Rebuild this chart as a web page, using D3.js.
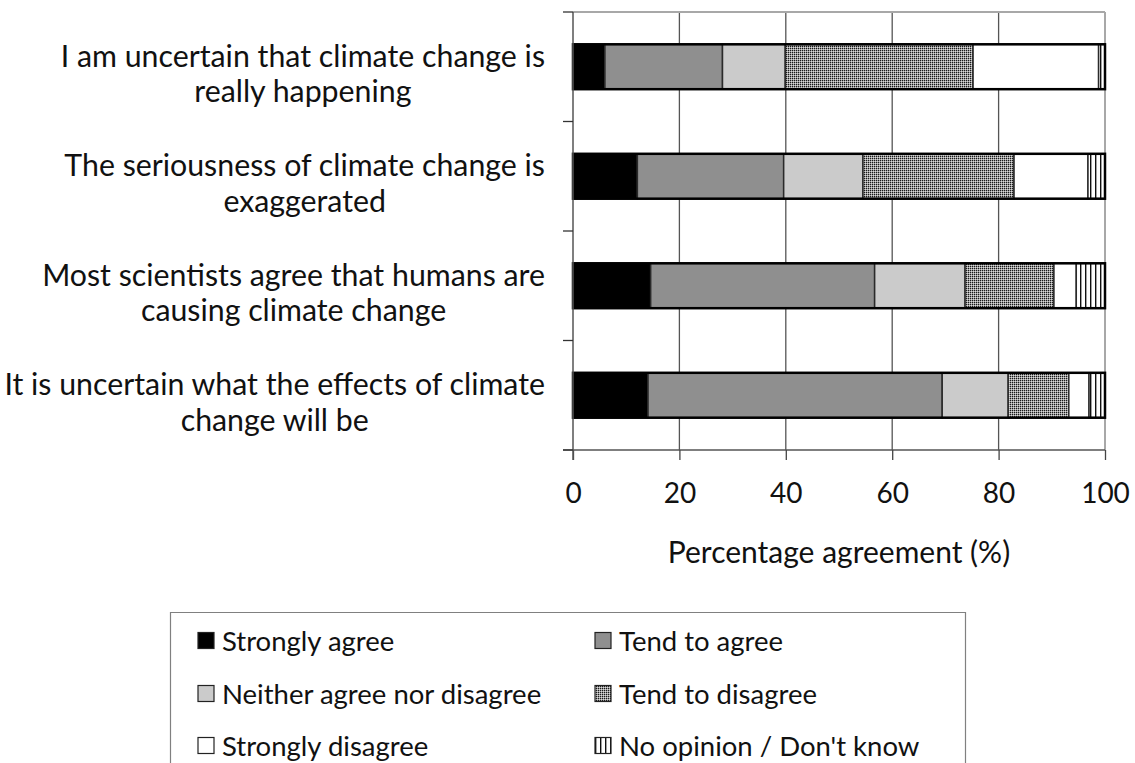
<!DOCTYPE html>
<html>
<head>
<meta charset="utf-8">
<script src="https://cdn.jsdelivr.net/npm/d3@7"></script>
<style>
  html, body { margin: 0; padding: 0; background: #fff; }
  svg { display: block; }
  text { font-family: Lato, "Open Sans", sans-serif; fill: #111; }
</style>
</head>
<body>
<svg id="chart" width="1135" height="763"></svg>
<script>
// ---- data ----
const categories = [
  "I am uncertain that climate change is|really happening",
  "The seriousness of climate change is|exaggerated",
  "Most scientists agree that humans are|causing climate change",
  "It is uncertain what the effects of climate|change will be"
];
const seriesNames = ["Strongly agree", "Tend to agree", "Neither agree nor disagree",
  "Tend to disagree", "Strongly disagree", "No opinion / Don't know"];
const stronglyAgree    = [6.0, 12.1, 14.6, 14.1];
const tendToAgree      = [22.1, 27.5, 42.1, 55.3];
const neither          = [11.8, 14.9, 17.0, 12.4];
const tendToDisagree   = [35.3, 28.4, 16.7, 11.4];
const stronglyDisagree = [23.6, 13.9, 4.2, 3.8];
const noOpinion        = [1.2, 3.2, 5.4, 3.0];
const xTicks = [0, 20, 40, 60, 80, 100];
const xTitle = "Percentage agreement (%)";

const seriesValues = [stronglyAgree, tendToAgree, neither, tendToDisagree, stronglyDisagree, noOpinion];
const table = categories.map((c, i) => {
  const row = { cat: c };
  seriesNames.forEach((s, j) => row[s] = seriesValues[j][i]);
  return row;
});

const svg = d3.select("#chart");
const defs = svg.append("defs");

// patterns
const pDis = defs.append("pattern").attr("id", "pDis").attr("patternUnits", "userSpaceOnUse")
  .attr("width", 2).attr("height", 2);
pDis.append("rect").attr("width", 2).attr("height", 2).attr("fill", "#9a9a9a");
pDis.append("rect").attr("x", 0).attr("y", 0).attr("width", 1).attr("height", 1).attr("fill", "#1a1a1a");
pDis.append("rect").attr("x", 1).attr("y", 1).attr("width", 1).attr("height", 1).attr("fill", "#d8d8d8");

const pNo = defs.append("pattern").attr("id", "pNo").attr("patternUnits", "userSpaceOnUse")
  .attr("width", 5).attr("height", 10);
pNo.append("rect").attr("width", 5).attr("height", 10).attr("fill", "#fff");
pNo.append("rect").attr("x", 0).attr("width", 1.4).attr("height", 10).attr("fill", "#111");

const fills = ["#000000", "#8f8f8f", "#cbcbcb", "url(#pDis)", "#ffffff", "url(#pNo)"];
const color = d3.scaleOrdinal().domain(seriesNames).range(fills);

// scales
const x = d3.scaleLinear().domain([0, 100]).range([573, 1105]);
const y = d3.scaleBand().domain(categories).range([12, 450]).paddingInner(0.59).paddingOuter(0.295);

// gridlines
svg.append("g").selectAll("line").data(xTicks.filter(t => t > 0 && t < 100)).join("line")
  .attr("x1", d => x(d)).attr("x2", d => x(d)).attr("y1", 12).attr("y2", 450)
  .attr("stroke", "#555").attr("stroke-width", 1.3);
// plot border top and right (light gray)
svg.append("line").attr("x1", x(0)).attr("x2", x(100)).attr("y1", 12).attr("y2", 12)
  .attr("stroke", "#a8a8a8").attr("stroke-width", 2);
svg.append("line").attr("x1", x(100)).attr("x2", x(100)).attr("y1", 12).attr("y2", 450)
  .attr("stroke", "#a8a8a8").attr("stroke-width", 2);

// bars
const stack = d3.stack().keys(seriesNames);
const stacked = stack(table);
const barsG = svg.append("g");
stacked.forEach(layer => {
  barsG.append("g").selectAll("rect").data(layer).join("rect")
    .attr("x", d => x(d[0]))
    .attr("width", d => x(d[1]) - x(d[0]))
    .attr("y", d => y(d.data.cat))
    .attr("height", y.bandwidth())
    .attr("fill", color(layer.key))
    .attr("stroke", "#2a2a2a")
    .attr("stroke-width", 1.5);
});
// outer outline of each bar
barsG.append("g").selectAll("rect").data(table).join("rect")
  .attr("x", x(0))
  .attr("width", d => x(d3.sum(seriesNames, s => d[s])) - x(0))
  .attr("y", d => y(d.cat))
  .attr("height", y.bandwidth())
  .attr("fill", "none").attr("stroke", "#000").attr("stroke-width", 2.5);

// x axis
const xAxis = d3.axisBottom(x).tickValues(xTicks).tickSize(10).tickFormat(d3.format("d"));
const gx = svg.append("g").attr("transform", "translate(0,450)").call(xAxis);
gx.select(".domain").attr("d", `M563,0H${x(100)}`).attr("stroke", "#555").attr("stroke-width", 1.5);
gx.selectAll(".tick line").attr("stroke", "#444").attr("stroke-width", 1.3);
gx.selectAll(".tick text").attr("font-size", 28).attr("font-family", "Lato, sans-serif")
  .attr("fill", "#111").attr("y", 53).attr("dy", 0);

// y axis (category boundaries)
const step = y.step();
const boundaries = d3.range(categories.length + 1).map(i => 12 + i * step);
svg.append("line").attr("x1", x(0)).attr("x2", x(0)).attr("y1", 12).attr("y2", 460)
  .attr("stroke", "#555").attr("stroke-width", 1.5);
svg.append("g").selectAll("line").data(boundaries).join("line")
  .attr("x1", 563).attr("x2", x(0)).attr("y1", d => d).attr("y2", d => d)
  .attr("stroke", "#333").attr("stroke-width", 1.3);

// category labels
const labelG = svg.append("g");
categories.forEach(c => {
  const lines = c.split("|");
  const cy = y(c) + y.bandwidth() / 2;
  const g = labelG.append("g");
  const ts = lines.map((l, i) => g.append("text").text(l)
    .attr("font-size", 30.3).attr("text-anchor", "middle")
    .attr("y", cy + i * 35.5));
  const w = d3.max(ts, t => t.node().getComputedTextLength());
  ts.forEach(t => t.attr("x", 545 - w / 2));
});

// x title
svg.append("text").attr("x", (x(0) + x(100)) / 2).attr("y", 563)
  .attr("text-anchor", "middle").attr("font-size", 30).text(xTitle);

// legend
const lg = svg.append("g");
lg.append("path").attr("d", "M170.5,770V612.5H965.5V770").attr("fill", "none")
  .attr("stroke", "#808080").attr("stroke-width", 1.2);
const colX = [198, 595];
const rowY = [641, 694, 746];
seriesNames.forEach((s, i) => {
  const cx = colX[i % 2], cy = rowY[Math.floor(i / 2)];
  lg.append("rect").attr("x", cx).attr("y", cy - 8.5).attr("width", 16).attr("height", 16)
    .attr("fill", color(s)).attr("stroke", "#222").attr("stroke-width", 1.2);
  lg.append("text").attr("x", cx + 24).attr("y", cy + 10).attr("font-size", 27.5).text(s);
});
</script>
</body>
</html>
